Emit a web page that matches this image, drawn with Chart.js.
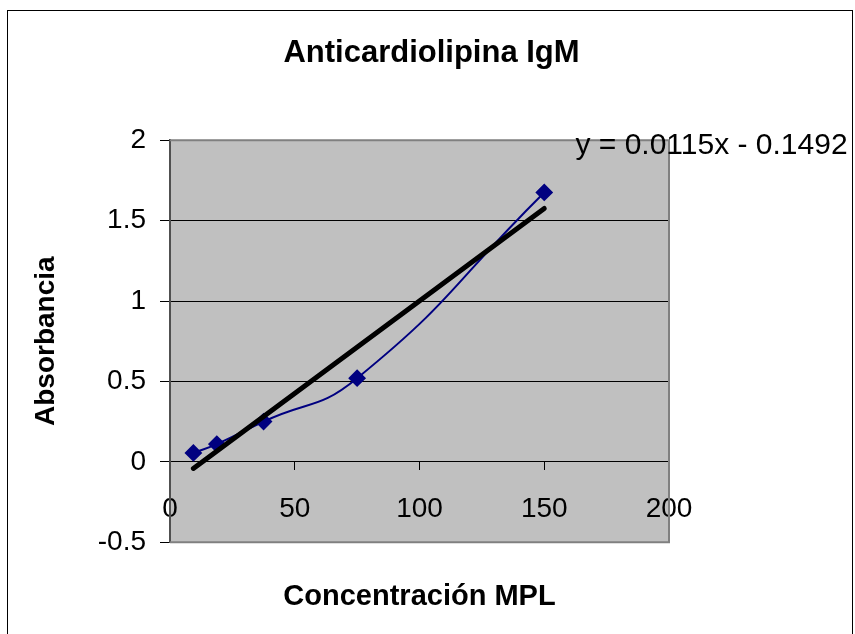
<!DOCTYPE html>
<html>
<head>
<meta charset="utf-8">
<script src="https://cdn.jsdelivr.net/npm/chart.js@4"></script>
<style>
  body { margin: 0; background: #fff; overflow: hidden; }
</style>
</head>
<body>
<canvas id="chart" width="855" height="634"></canvas>
<script>
'use strict';

// data
const concentrations = [9.375, 18.75, 37.5, 75, 150];
const absorbances = [0.055, 0.11, 0.25, 0.52, 1.675];

// linear trendline as printed on the chart
const trendSlope = 0.0115;
const trendIntercept = -0.1492;
const equationText = 'y = 0.0115x - 0.1492';

const xTicks = { min: 0, max: 200, step: 50 };
const yTicks = { min: -0.5, max: 2, step: 0.5 };

const fontFamily = '"Liberation Sans", Arial, sans-serif';

let pointsData = [];
for (let i = 0; i < concentrations.length; i++) {
  pointsData.push({ x: concentrations[i], y: absorbances[i] });
}

let xFirst = concentrations[0];
let xLast = concentrations[concentrations.length - 1];
let trendData = [
  { x: xFirst, y: trendSlope * xFirst + trendIntercept },
  { x: xLast, y: trendSlope * xLast + trendIntercept }
];

const excelLook = {
  id: 'excelLook',
  beforeDraw(chart) {
    const ctx = chart.ctx;
    const a = chart.chartArea;
    ctx.save();
    ctx.strokeStyle = '#000';
    ctx.lineWidth = 1;
    ctx.strokeRect(7.5, 10.5, 845, 700);
    ctx.fillStyle = '#c0c0c0';
    ctx.fillRect(a.left, a.top, a.right - a.left, a.bottom - a.top);
    ctx.restore();
  },
  afterDraw(chart) {
    const ctx = chart.ctx;
    const a = chart.chartArea;
    ctx.save();
    ctx.strokeStyle = '#808080';
    ctx.lineWidth = 2;
    ctx.beginPath();
    ctx.moveTo(a.left, a.top);
    ctx.lineTo(a.right, a.top);
    ctx.lineTo(a.right, a.bottom);
    ctx.lineTo(a.left, a.bottom);
    ctx.stroke();
    // equation label next to the trendline end
    const xs = chart.scales.x;
    const ys = chart.scales.y;
    ctx.fillStyle = '#000';
    ctx.font = '30px ' + fontFamily;
    ctx.textAlign = 'left';
    ctx.textBaseline = 'middle';
    ctx.fillText(equationText, xs.getPixelForValue(162.5), ys.getPixelForValue(1.965));
    ctx.restore();
  }
};

const myChart = new Chart(document.getElementById('chart'), {
  type: 'scatter',
  data: {
    datasets: [
      {
        label: 'Anticardiolipina IgM',
        data: pointsData,
        showLine: true,
        borderColor: '#000080',
        backgroundColor: '#000080',
        borderWidth: 2,
        tension: 0.5,
        pointStyle: 'rectRot',
        pointRadius: 7.5,
        pointHoverRadius: 7.5,
        order: 1
      },
      {
        label: 'Lineal',
        data: trendData,
        showLine: true,
        borderColor: '#000',
        borderWidth: 5,
        borderCapStyle: 'round',
        pointRadius: 0,
        tension: 0,
        order: 0
      }
    ]
  },
  options: {
    responsive: false,
    animation: false,
    layout: { padding: { left: 8, right: 0, top: 10, bottom: 4 } },
    plugins: {
      legend: { display: false },
      tooltip: { enabled: false },
      title: {
        display: true,
        text: 'Anticardiolipina IgM',
        color: '#000',
        font: { family: fontFamily, size: 31, weight: 'bold' },
        padding: { top: 25, bottom: 68 }
      }
    },
    scales: {
      x: {
        type: 'linear',
        position: { y: 0 },
        min: xTicks.min,
        max: xTicks.max,
        ticks: {
          stepSize: xTicks.step,
          color: '#000',
          font: { family: fontFamily, size: 28 },
          padding: 23,
          maxRotation: 0
        },
        grid: {
          drawOnChartArea: false,
          drawTicks: true,
          tickLength: 8,
          color: '#000'
        },
        border: { display: true, color: '#000', width: 1 }
      },
      // holds only the x axis title below the plot area
      xTitle: {
        type: 'linear',
        axis: 'x',
        position: 'bottom',
        min: xTicks.min,
        max: xTicks.max,
        ticks: { display: false },
        grid: { display: false, drawTicks: false },
        border: { display: false },
        title: {
          display: true,
          text: 'Concentración MPL',
          color: '#000',
          font: { family: fontFamily, size: 29, weight: 'bold' },
          padding: { top: 37, bottom: 16 }
        }
      },
      y: {
        type: 'linear',
        position: 'left',
        min: yTicks.min,
        max: yTicks.max,
        afterFit(scale) { scale.width = 162; },
        ticks: {
          stepSize: yTicks.step,
          color: '#000',
          font: { family: fontFamily, size: 28 },
          padding: 14,
          callback: (value) => String(value)
        },
        grid: {
          color: '#000',
          lineWidth: 1,
          tickLength: 10
        },
        border: { display: true, color: '#505050', width: 2 },
        title: {
          display: true,
          text: 'Absorbancia',
          color: '#000',
          font: { family: fontFamily, size: 28, weight: 'bold' },
          padding: { top: 21, bottom: 0 }
        }
      },
      // empty right margin where the equation sits
      yRight: {
        type: 'linear',
        axis: 'y',
        position: 'right',
        min: yTicks.min,
        max: yTicks.max,
        afterFit(scale) { scale.width = 186; },
        ticks: { display: false },
        grid: { display: false, drawTicks: false },
        border: { display: false }
      }
    }
  },
  plugins: [excelLook]
});
</script>
</body>
</html>
